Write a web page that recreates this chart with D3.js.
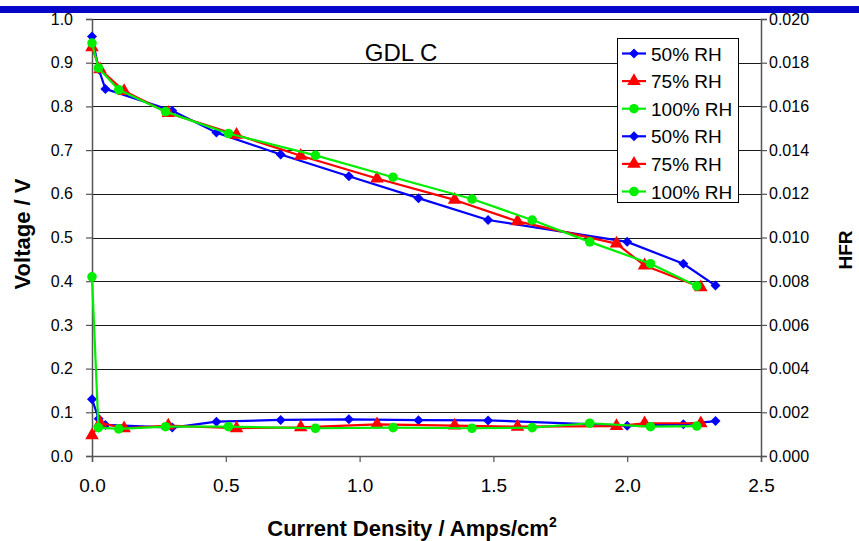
<!DOCTYPE html>
<html>
<head>
<meta charset="utf-8">
<script src="https://cdn.jsdelivr.net/npm/d3@7"></script>
<style>
  html, body { margin: 0; padding: 0; background: #fff; }
  svg { display: block; font-family: "Liberation Sans", Arial, sans-serif; }
</style>
</head>
<body>
<svg id="chart" width="859" height="541"></svg>
<script>
// Polarization (voltage) and high-frequency resistance vs current density, GDL C
const currentBlue  = [0, 0.025, 0.05, 0.30, 0.465, 0.705, 0.96, 1.22, 1.48, 2.00, 2.21, 2.33];
const voltBlue     = [0.96, 0.885, 0.84, 0.79, 0.74, 0.69, 0.64, 0.59, 0.54, 0.49, 0.44, 0.39];
const hfrBlue      = [0.0026, 0.0017, 0.00142, 0.0013, 0.00157, 0.00165, 0.00168, 0.00164, 0.00163, 0.00139, 0.00145, 0.0016];

const currentRed   = [0, 0.03, 0.12, 0.285, 0.54, 0.78, 1.065, 1.355, 1.59, 1.96, 2.065, 2.275];
const voltRed      = [0.935, 0.885, 0.835, 0.785, 0.735, 0.687, 0.635, 0.586, 0.537, 0.486, 0.436, 0.386];
const hfrRed       = [0.00095, 0.00152, 0.00127, 0.00139, 0.00127, 0.00131, 0.00145, 0.00139, 0.00134, 0.00137, 0.0015, 0.0015];

const currentGreen = [0, 0.024, 0.10, 0.275, 0.51, 0.835, 1.125, 1.42, 1.645, 1.86, 2.087, 2.26];
const voltGreen    = [0.945, 0.888, 0.838, 0.788, 0.738, 0.688, 0.638, 0.588, 0.54, 0.49, 0.44, 0.389];
const hfrGreen     = [0.0082, 0.0013, 0.00124, 0.00134, 0.00134, 0.00127, 0.0013, 0.00127, 0.0013, 0.0015, 0.00134, 0.00137];

const seriesNames  = ["50% RH", "75% RH", "100% RH", "50% RH", "75% RH", "100% RH"];
const xTicks       = [0, 0.5, 1.0, 1.5, 2.0, 2.5];
const voltTicks    = [0, 0.1, 0.2, 0.3, 0.4, 0.5, 0.6, 0.7, 0.8, 0.9, 1.0];
const hfrTicks     = [0, 0.002, 0.004, 0.006, 0.008, 0.010, 0.012, 0.014, 0.016, 0.018, 0.020];

const svg = d3.select("#chart");
const plot = { left: 92, right: 761, top: 19, bottom: 456 };

const x = d3.scaleLinear().domain([0, 2.5]).range([plot.left, plot.right]);
const yV = d3.scaleLinear().domain([0, 1]).range([plot.bottom, plot.top]);
const yH = d3.scaleLinear().domain([0, 0.02]).range([plot.bottom, plot.top]);

// header band
svg.append("rect").attr("x", 0).attr("y", 6).attr("width", 859).attr("height", 7).attr("fill", "#0606c8");

// horizontal gridlines
svg.append("g").selectAll("line").data(voltTicks.slice(1)).join("line")
  .attr("x1", plot.left).attr("x2", plot.right)
  .attr("y1", d => Math.round(yV(d)) + 0.5).attr("y2", d => Math.round(yV(d)) + 0.5)
  .attr("stroke", "#1a1a1a").attr("stroke-width", 1);

const axisColor = "#555";
const tickFmt1 = d3.format(".1f");
const tickFmt3 = d3.format(".3f");

// left axis
const gL = svg.append("g").attr("transform", `translate(${plot.left},0)`)
  .call(d3.axisLeft(yV).tickValues(voltTicks).tickFormat(tickFmt1).tickSizeOuter(0).tickSize(6).tickPadding(13));
// right axis
const gR = svg.append("g").attr("transform", `translate(${plot.right},0)`)
  .call(d3.axisRight(yH).tickValues(hfrTicks).tickFormat(tickFmt3).tickSizeOuter(0).tickSize(6).tickPadding(2));
// bottom axis
const gB = svg.append("g").attr("transform", `translate(0,${plot.bottom})`)
  .call(d3.axisBottom(x).tickValues(xTicks).tickFormat(tickFmt1).tickSizeOuter(0).tickSize(6).tickPadding(17));

[gL, gR, gB].forEach(g => {
  g.select(".domain").attr("stroke", axisColor).attr("stroke-width", 1.5);
  g.selectAll(".tick line").attr("stroke", axisColor).attr("stroke-width", 1.2);
  g.selectAll(".tick text").attr("fill", "#000").attr("font-family", "Liberation Sans, Arial, sans-serif");
});
gL.selectAll(".tick text").attr("font-size", 16);
gR.selectAll(".tick text").attr("font-size", 16);
gB.selectAll(".tick text").attr("font-size", 19);

// square diamond marker (rotated square)
const diamond = {
  draw(ctx, size) {
    const r = Math.sqrt(size / 2);
    ctx.moveTo(0, -r); ctx.lineTo(r, 0); ctx.lineTo(0, r); ctx.lineTo(-r, 0); ctx.closePath();
  }
};

// series definitions
const series = [
  { xs: currentBlue,  ys: voltBlue,  y: yV, color: "#0000ff", shape: diamond, size: 50 },
  { xs: currentRed,   ys: voltRed,   y: yV, color: "#ff0000", shape: d3.symbolTriangle, size: 80 },
  { xs: currentGreen, ys: voltGreen, y: yV, color: "#00ee00", shape: d3.symbolCircle, size: 72 },
  { xs: currentBlue,  ys: hfrBlue,   y: yH, color: "#0000ff", shape: diamond, size: 50 },
  { xs: currentRed,   ys: hfrRed,    y: yH, color: "#ff0000", shape: d3.symbolTriangle, size: 80 },
  { xs: currentGreen, ys: hfrGreen,  y: yH, color: "#00ee00", shape: d3.symbolCircle, size: 72 }
];

const gS = svg.append("g");
series.forEach(s => {
  const pts = s.xs.map((v, i) => [v, s.ys[i]]);
  const line = d3.line().x(d => x(d[0])).y(d => s.y(d[1]));
  gS.append("path").datum(pts).attr("d", line)
    .attr("fill", "none").attr("stroke", s.color).attr("stroke-width", 2.2).attr("stroke-linejoin", "round");
  gS.append("g").selectAll("path").data(pts).join("path")
    .attr("d", d3.symbol().type(s.shape).size(s.size))
    .attr("transform", d => `translate(${x(d[0])},${s.y(d[1])})`)
    .attr("fill", s.color);
});

// chart title
svg.append("text").attr("x", 401).attr("y", 61).attr("text-anchor", "middle")
  .attr("font-size", 24).text("GDL C");

// legend
const leg = svg.append("g");
leg.append("rect").attr("x", 617.5).attr("y", 38.5).attr("width", 121).attr("height", 164)
  .attr("fill", "#fff").attr("stroke", "#000").attr("stroke-width", 1);
series.forEach((s, i) => {
  const cy = 53.5 + i * 27.6;
  leg.append("line").attr("x1", 622).attr("x2", 646).attr("y1", cy).attr("y2", cy)
    .attr("stroke", s.color).attr("stroke-width", 2.2);
  leg.append("path").attr("d", d3.symbol().type(s.shape).size(s.size)())
    .attr("transform", `translate(634,${cy})`).attr("fill", s.color);
  leg.append("text").attr("x", 651).attr("y", cy + 7).attr("font-size", 19).text(seriesNames[i]);
});

// axis titles
svg.append("text").attr("transform", "translate(30,234) rotate(-90)").attr("text-anchor", "middle")
  .attr("font-size", 22).attr("font-weight", "bold").text("Voltage / V");
svg.append("text").attr("transform", "translate(852,250) rotate(-90)").attr("text-anchor", "middle")
  .attr("font-size", 19).attr("font-weight", "bold").text("HFR");
const xt = svg.append("text").attr("x", 412).attr("y", 536).attr("text-anchor", "middle")
  .attr("font-size", 22).attr("font-weight", "bold");
xt.append("tspan").text("Current Density / Amps/cm");
xt.append("tspan").attr("dy", -9).attr("font-size", 14).text("2");
</script>
</body>
</html>
